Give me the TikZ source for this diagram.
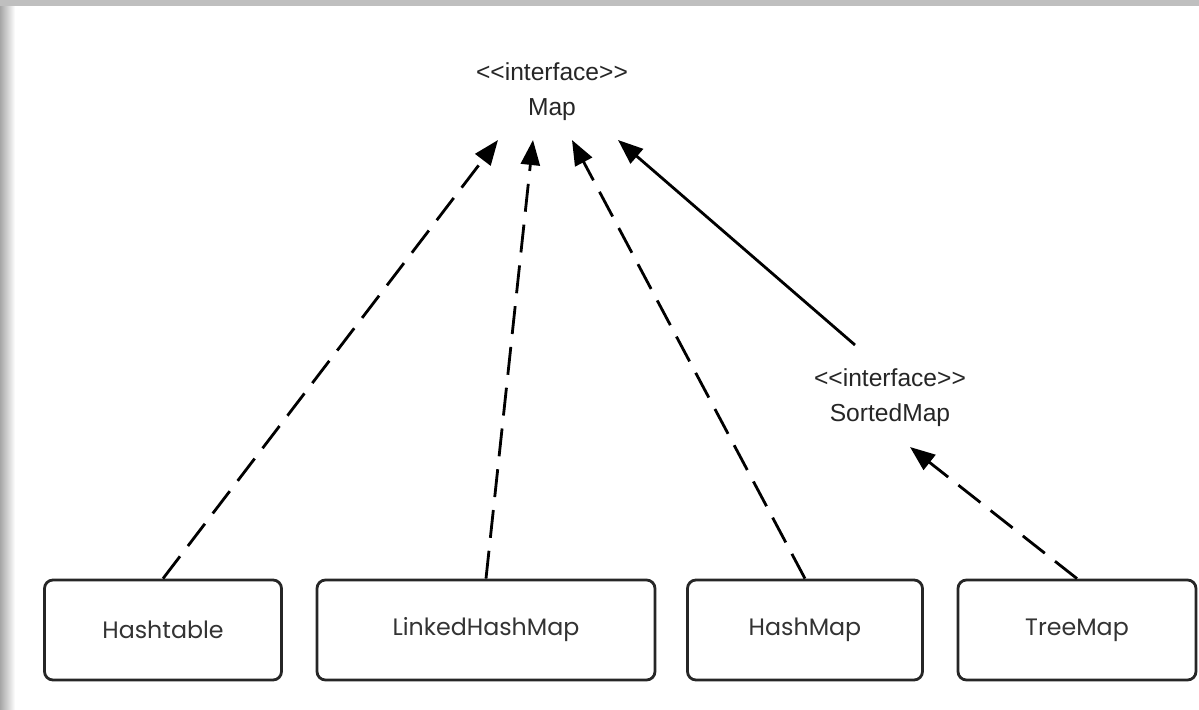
\documentclass[tikz,border=0pt]{standalone}
\usepackage{fontspec}
\setmainfont{Liberation Sans}
\newfontfamily\boxfont{Poppins}
\usetikzlibrary{arrows.meta}
\newcommand{\stereo}[1]{<{}<#1>{}>}
\tikzstyle{iface} = [align=center, inner sep=0pt, text=black!85, font=\fontsize{14}{19.9}\selectfont]
\tikzstyle{klass} = [rectangle, rounded corners=0.17cm, minimum height=2cm, text centered, draw=black!85, line width=1.6pt, text=black!80, font=\boxfont\fontsize{13.5}{16}\selectfont]
\tikzstyle{arrow} = [line width=1.6pt, draw=black, -{Triangle[length=0.5cm,width=0.38cm]}]
\tikzstyle{impl} = [arrow, dash pattern=on 0.56cm off 0.26cm]

\begin{document}
\begin{tikzpicture}[node distance=10.76cm]
\useasboundingbox (-11.04,1.84) rectangle (12.94,-12.36);
% soft edge along the left and top
\shade[left color=black!35, right color=white] (-11.04,1.84) rectangle (-10.74,-12.36);
\fill[black!25] (-11.04,1.84) rectangle (12.94,1.72);

\node (map) [iface] {\stereo{interface}\\Map};
\node (hashtable) [klass, minimum width=4.74cm, below of=map, xshift=-7.78cm] {Hashtable};
\node (linked) [klass, minimum width=6.76cm, below of=map, xshift=-1.32cm] {LinkedHashMap};
\node (hashmap) [klass, minimum width=4.7cm, below of=map, xshift=5.06cm] {HashMap};
\node (treemap) [klass, minimum width=4.76cm, below of=map, xshift=10.5cm] {TreeMap};
\node (sorted) [iface, below of=map, xshift=6.76cm, yshift=4.64cm] {\stereo{interface}\\SortedMap};

\draw [impl] (hashtable.north) -- ([xshift=-1.08cm,yshift=-0.96cm]map.center);
\draw [impl] (linked.north) -- ([xshift=-0.38cm,yshift=-0.96cm]map.center);
\draw [impl] (hashmap.north) -- ([xshift=0.4cm,yshift=-0.96cm]map.center);
\draw [arrow] ([xshift=-0.7cm,yshift=1.06cm]sorted.center) -- ([xshift=1.32cm,yshift=-0.96cm]map.center);
\draw [impl] (treemap.north) -- ([xshift=0.4cm,yshift=-0.98cm]sorted.center);

\end{tikzpicture}
\end{document}
